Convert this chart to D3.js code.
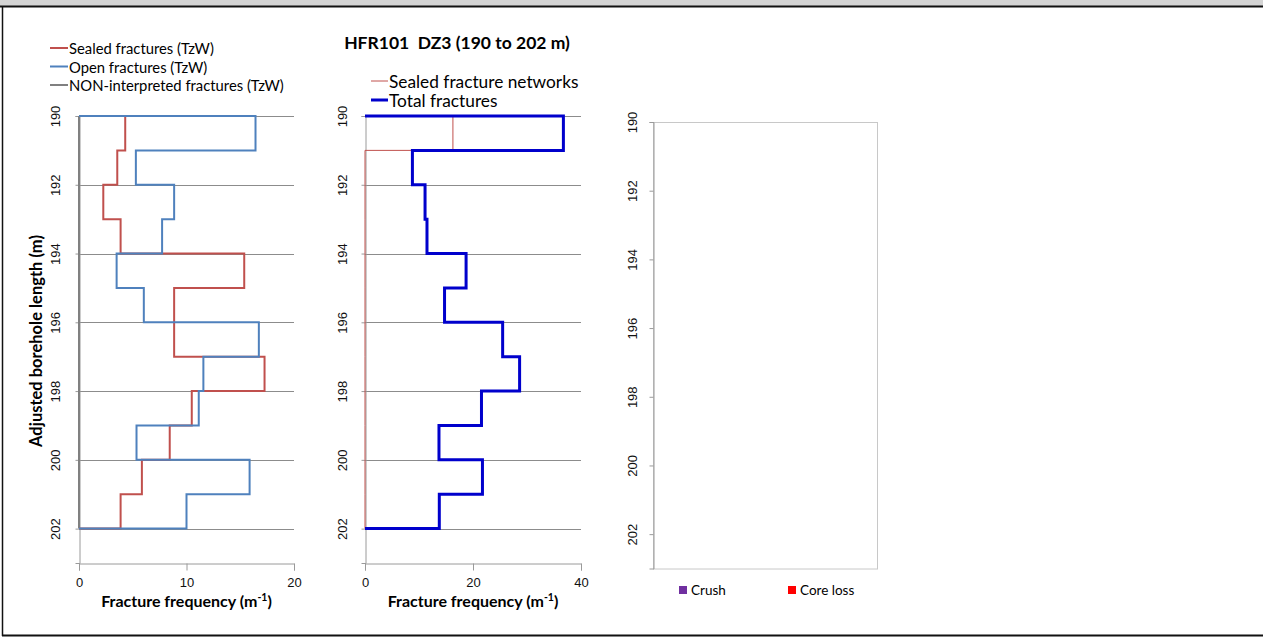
<!DOCTYPE html>
<html><head><meta charset="utf-8">
<script src="https://cdnjs.cloudflare.com/ajax/libs/d3/7.8.5/d3.min.js"></script>
<style>body{margin:0;background:#fff;} svg{display:block;}</style>
</head><body>
<svg id="c" width="1263" height="641"></svg>
<script>
// ---- data ----
const depthTops = [190,191,192,193,194,195,196,197,198,199,200,201];
const depthEnd = 202;
const sealedTzW = [4.3,3.56,2.26,3.87,15.37,8.85,8.85,17.26,10.49,8.44,5.85,3.87];
const openTzW   = [16.42,5.29,8.85,7.73,3.5,6.03,16.73,11.57,11.14,5.35,15.87,10.0];
const nonInterpTzW = [0,0,0,0,0,0,0,0,0,0,0,0];
const sealedNetworks = [16.28,0,0,0,0,0,0,0,0,0,0,0];
const totalFractures = [36.74,8.78,11.12,11.48,18.72,14.73,25.49,28.63,21.57,13.7,21.75,13.76];
const depthTicks = [190,192,194,196,198,200,202];
const leftXTicks = [0,10,20];
const midXTicks = [0,20,40];
const legend1 = ["Sealed fractures (TzW)","Open fractures (TzW)","NON-interpreted fractures (TzW)"];
const legend2 = ["Sealed fracture networks","Total fractures"];
const legend3 = ["Crush","Core loss"];
const title = "HFR101  DZ3 (190 to 202 m)";
const xTitle = "Fracture frequency (m";
const yTitle = "Adjusted borehole length (m)";

const svg = d3.select("#c");
const SANS = "Lato, 'Open Sans', sans-serif";
const TICKF = "'Liberation Sans', Arial, sans-serif";

// frame
svg.append("rect").attr("x",0).attr("y",0).attr("width",1263).attr("height",6).attr("fill","#d4d4d4");
svg.append("line").attr("x1",0).attr("x2",1263).attr("y1",6.5).attr("y2",6.5).attr("stroke","#111").attr("stroke-width",2);
svg.append("line").attr("x1",2.5).attr("x2",2.5).attr("y1",6).attr("y2",636).attr("stroke","#111").attr("stroke-width",1.5);
svg.append("line").attr("x1",2).attr("x2",1263).attr("y1",635.5).attr("y2",635.5).attr("stroke","#111").attr("stroke-width",2);

function stepPoints(vals){
  const pts=[[0,depthTops[0]]];
  vals.forEach((v,i)=>{ pts.push([v,depthTops[i]]); pts.push([v, i+1<depthTops.length?depthTops[i+1]:depthEnd]); });
  pts.push([0,depthEnd]);
  return pts;
}

function panel(x0,x1,y0,y1,xmax,xticks,opts){
  const x = d3.scaleLinear().domain([0,xmax]).range([x0,x1]);
  const y = d3.scaleLinear().domain([190,203]).range([y0,y1]);
  const g = svg.append("g");
  if(opts.grid){
    g.selectAll("line.grid").data(depthTicks).join("line")
      .attr("x1",x0).attr("x2",x1).attr("y1",d=>Math.round(y(d))+0.5).attr("y2",d=>Math.round(y(d))+0.5)
      .attr("stroke","#8c8c8c").attr("stroke-width",1);
  }
  if(opts.frame){
    g.append("rect").attr("x",x0+0.5).attr("y",Math.round(y0)+0.5).attr("width",x1-x0).attr("height",y1-y0)
      .attr("fill","none").attr("stroke","#c8c8c8").attr("stroke-width",1);
  }
  const ya = d3.axisLeft(y).tickValues(depthTicks).tickSize(4).tickFormat(d3.format("d"));
  const yg = g.append("g").attr("transform",`translate(${Math.round(x0)+0.5},0)`).call(ya)
    .attr("font-family",TICKF).attr("font-size",13);
  yg.select(".domain").attr("stroke","#9a9a9a");
  yg.selectAll(".tick line").attr("stroke","#9a9a9a");
  yg.selectAll(".tick text").attr("transform","rotate(-90)").attr("x",0).attr("y",-opts.labOff)
    .attr("dy",null).attr("dominant-baseline","central").attr("text-anchor","middle").attr("fill","#111");
  if(xticks){
    const xa = d3.axisBottom(x).tickValues(xticks).tickSize(7).tickFormat(d3.format("d"));
    const xg = g.append("g").attr("transform",`translate(0,${Math.round(y1)+0.5})`).call(xa)
      .attr("font-family",TICKF).attr("font-size",13);
    xg.select(".domain").attr("stroke","#9a9a9a");
    xg.selectAll(".tick line").attr("stroke","#9a9a9a");
    xg.selectAll(".tick text").attr("y",14).attr("fill","#111");
    const t = g.append("text").attr("x",(x0+x1)/2).attr("y",y1+44).attr("text-anchor","middle")
      .attr("font-family",SANS).attr("font-weight","bold").attr("font-size",16).attr("fill","#000");
    t.append("tspan").text(xTitle);
    t.append("tspan").attr("font-size",10.5).attr("dy",-6).text("-1");
    t.append("tspan").attr("dy",6).text(")");
  }
  return {x,y,g};
}

const line = (p)=>d3.line().x(d=>p.x(d[0])).y(d=>p.y(d[1]));

// left panel
const P1 = panel(79,294,116,563,20,leftXTicks,{grid:true,labOff:24});
P1.g.append("path").attr("d",line(P1)(stepPoints(nonInterpTzW))).attr("fill","none").attr("stroke","#808080").attr("stroke-width",2);
P1.g.append("path").attr("d",line(P1)(stepPoints(sealedTzW))).attr("fill","none").attr("stroke","#C0504D").attr("stroke-width",2);
P1.g.append("path").attr("d",line(P1)(stepPoints(openTzW))).attr("fill","none").attr("stroke","#4F81BD").attr("stroke-width",2);

// middle panel
const P2 = panel(365,581,116,563,40,midXTicks,{grid:true,labOff:23});
P2.g.append("path").attr("d",line(P2)(stepPoints(sealedNetworks))).attr("fill","none").attr("stroke","#C0504D").attr("stroke-width",1);
P2.g.append("path").attr("d",line(P2)(stepPoints(totalFractures))).attr("fill","none").attr("stroke","#0000CC").attr("stroke-width",3);

// right panel
const P3 = panel(653,877,122,568.5,1,null,{grid:false,frame:true,labOff:21});

// y title
svg.append("text").attr("transform","translate(42,341) rotate(-90)").attr("text-anchor","middle")
  .attr("font-family",SANS).attr("font-weight","bold").attr("font-size",16.5).attr("fill","#000").text(yTitle);

// title
svg.append("text").attr("x",457).attr("y",49).attr("text-anchor","middle").attr("xml:space","preserve")
  .attr("font-family",SANS).attr("font-weight","bold").attr("font-size",17.5).attr("fill","#000").text(title);

// legend 1
const l1c = ["#C0504D","#4F81BD","#808080"];
legend1.forEach((t,i)=>{
  const yy = 48 + i*18.5;
  svg.append("line").attr("x1",50).attr("x2",68).attr("y1",yy).attr("y2",yy).attr("stroke",l1c[i]).attr("stroke-width",2);
  svg.append("text").attr("x",69).attr("y",yy).attr("dominant-baseline","central")
    .attr("font-family",SANS).attr("font-size",14.8).attr("fill","#000").text(t);
});
// legend 2
const l2c = ["#C0504D","#0000CC"], l2w=[1,3];
legend2.forEach((t,i)=>{
  const yy = 81 + i*19;
  svg.append("line").attr("x1",371).attr("x2",388).attr("y1",yy).attr("y2",yy).attr("stroke",l2c[i]).attr("stroke-width",l2w[i]);
  svg.append("text").attr("x",389).attr("y",yy).attr("dominant-baseline","central")
    .attr("font-family",SANS).attr("font-size",17.3).attr("fill","#000").text(t);
});
// legend 3
const l3c = ["#7030A0","#FF0000"], l3x=[679,788];
legend3.forEach((t,i)=>{
  svg.append("rect").attr("x",l3x[i]).attr("y",586).attr("width",8).attr("height",8).attr("fill",l3c[i]);
  svg.append("text").attr("x",l3x[i]+12).attr("y",590).attr("dominant-baseline","central")
    .attr("font-family",SANS).attr("font-size",13.5).attr("fill","#000").text(t);
});
</script>
</body></html>
